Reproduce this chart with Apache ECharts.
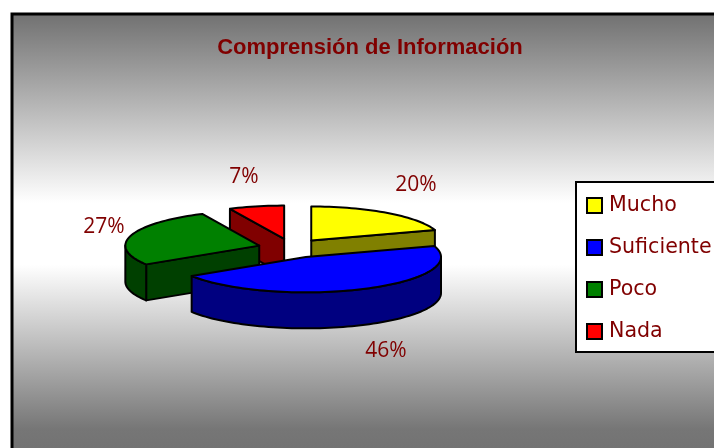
<!DOCTYPE html>
<html><head><meta charset="utf-8">
<style>html,body{margin:0;padding:0;background:#fff}#c{width:714px;height:448px}</style>
<script src="https://cdn.jsdelivr.net/npm/echarts@6/dist/echarts.min.js"></script>
</head><body><div id="c"></div>
<script>
const categories = ['Mucho', 'Suficiente', 'Poco', 'Nada'];
const values = [20, 46, 27, 7];
const percentLabels = ['20%', '46%', '27%', '7%'];
const topColors = ['#FFFF00', '#0000FF', '#008000', '#FF0000'];
const sideColors = ['#808000', '#000080', '#004000', '#800000'];

// projection layout of the exploded 3D pie
const view = {cx: 291.5, cy: 248.3, rx: 130, ry: 34, depth: 36, explodeX: 33.6, explodeY: 9.6};
const sliceScale = [1.0, 1.04, 1.03, 0.98];
const drawOrder = [1, 3, 2, 0];
const labelAt = [[416, 185], [386, 351], [104, 227], [244, 177]];
const total = values.reduce((a, b) => a + b, 0);
const textColor = '#800000';

function renderSlice(i) {
  return function (params, api) {
    const v = api.value(0);
    let before = 0;
    for (let k = 0; k < i; k++) before += values[k];
    const a0 = before / total * 360, a1 = (before + v) / total * 360;
    const rad = d => d * Math.PI / 180;
    const mid = rad((a0 + a1) / 2);
    const cx = view.cx + view.explodeX * Math.sin(mid);
    const cy = view.cy - view.explodeY * Math.cos(mid);
    const rx = view.rx * sliceScale[i], ry = view.ry * sliceScale[i], d = view.depth;
    const pt = (a, dy) => [cx + rx * Math.sin(rad(a)), cy - ry * Math.cos(rad(a)) + (dy || 0)];
    const line = {stroke: '#000', lineWidth: 2, lineJoin: 'round'};
    const kids = [];
    const poly = (points, fill) => kids.push({type: 'polygon', shape: {points}, style: Object.assign({fill}, line)});
    if (Math.sin(rad(a0)) < -1e-6) {
      poly([[cx, cy], pt(a0), pt(a0, d), [cx, cy + d]], sideColors[i]);
    }
    if (Math.sin(rad(a1)) > 1e-6) {
      poly([[cx, cy], pt(a1), pt(a1, d), [cx, cy + d]], sideColors[i]);
    }
    const f0 = Math.max(a0, 90), f1 = Math.min(a1, 270);
    if (f1 > f0) {
      const up = [], down = [];
      for (let a = f0; a < f1; a += 2) { up.push(pt(a)); down.unshift(pt(a, d)); }
      up.push(pt(f1)); down.unshift(pt(f1, d));
      poly(up.concat(down), sideColors[i]);
    }
    const top = [[cx, cy]];
    for (let a = a0; a < a1; a += 2) top.push(pt(a));
    top.push(pt(a1));
    poly(top, topColors[i]);
    kids.push({type: 'text', x: labelAt[i][0], y: labelAt[i][1],
      style: {text: percentLabels[i], fill: textColor, font: '21px "Open Sans"', align: 'center', verticalAlign: 'middle'}});
    return {type: 'group', children: kids};
  };
}

const chart = echarts.init(document.getElementById('c'), null, {renderer: 'canvas'});
chart.setOption({
  animation: false,
  backgroundColor: '#fff',
  title: {
    text: 'Comprensión de Información', left: 365, top: 32, textAlign: 'center',
    textStyle: {color: textColor, fontFamily: '"Liberation Sans"', fontWeight: 'bold', fontSize: 22}
  },
  legend: {
    orient: 'vertical', left: 576, top: 182, data: categories, selectedMode: false,
    icon: 'rect', itemWidth: 15, itemHeight: 15, itemGap: 21,
    padding: [13, 40, 10, 10], backgroundColor: '#fff', borderColor: '#000', borderWidth: 2,
    itemStyle: {borderColor: '#000', borderWidth: 2},
    textStyle: {color: textColor, fontFamily: '"DejaVu Sans"', fontSize: 20.6, lineHeight: 15, padding: [0, 0, 0, 2]}
  },
  graphic: [{
    type: 'rect', z: -10, silent: true,
    shape: {x: 12, y: 14, width: 720, height: 450},
    style: {
      stroke: '#000', lineWidth: 3,
      fill: {type: 'linear', x: 0, y: 0, x2: 0, y2: 1, colorStops: [
        {offset: 0, color: '#707070'}, {offset: 0.42, color: '#ffffff'},
        {offset: 0.557, color: '#ffffff'}, {offset: 0.92, color: '#767676'}, {offset: 1, color: '#707070'}]}
    }
  }],
  series: categories.map((name, i) => ({
    type: 'custom', name, coordinateSystem: 'none', z: 2 + drawOrder[i],
    itemStyle: {color: topColors[i]}, silent: true,
    data: [[values[i]]], renderItem: renderSlice(i)
  }))
});
</script></body></html>
